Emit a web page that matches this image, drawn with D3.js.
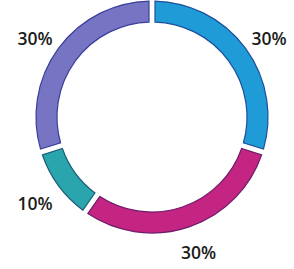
<!DOCTYPE html>
<html>
<head>
<meta charset="utf-8">
<script src="https://cdn.jsdelivr.net/npm/d3@7"></script>
<style>
  html, body { margin: 0; padding: 0; background: #fff; }
  svg { display: block; }
</style>
</head>
<body>
<script>
// slice data, clockwise from 12 o'clock
const labels = ["30%", "30%", "10%", "30%"];
const values = [30, 30, 10, 30];
const fills = ["#1f9bd8", "#c42482", "#2ba5ad", "#7774c4"];
const strokes = ["#1d4f9a", "#6e1d6a", "#1e5d78", "#3a3f98"];

const width = 294,
    height = 269,
    cx = 152,
    cy = 117,
    outerR = 116,
    innerR = 95,
    labelR = 145,
    labelShift = 4,
    labelSquash = 0.96;

const svg = d3.select("body").append("svg")
    .attr("width", width)
    .attr("height", height);

const g = svg.append("g")
    .attr("transform", `translate(${cx},${cy})`);

const pie = d3.pie()
    .sort(null)
    .value(d => d)
    .padAngle(0.04);

const arc = d3.arc()
    .innerRadius(innerR)
    .outerRadius(outerR);

const labelArc = d3.arc()
    .innerRadius(labelR)
    .outerRadius(labelR);

const arcs = pie(values);

g.selectAll("path")
    .data(arcs)
    .enter()
    .append("path")
    .attr("d", arc)
    .attr("fill", (d, i) => fills[i])
    .attr("stroke", (d, i) => strokes[i])
    .attr("stroke-width", 1.2);

// labels sit a little below the arc centroids, as in the print
g.selectAll("text")
    .data(arcs)
    .enter()
    .append("text")
    .attr("transform", d => {
        let [x, y] = labelArc.centroid(d);
        return `translate(${x},${y * labelSquash + labelShift})`;
    })
    .attr("text-anchor", "middle")
    .attr("dy", "0.36em")
    .style("font-family", "'Open Sans', 'Noto Sans', sans-serif")
    .style("font-size", "17.5px")
    .style("font-weight", 600)
    .style("fill", "#1c1c1c")
    .text((d, i) => labels[i]);
</script>
</body>
</html>
